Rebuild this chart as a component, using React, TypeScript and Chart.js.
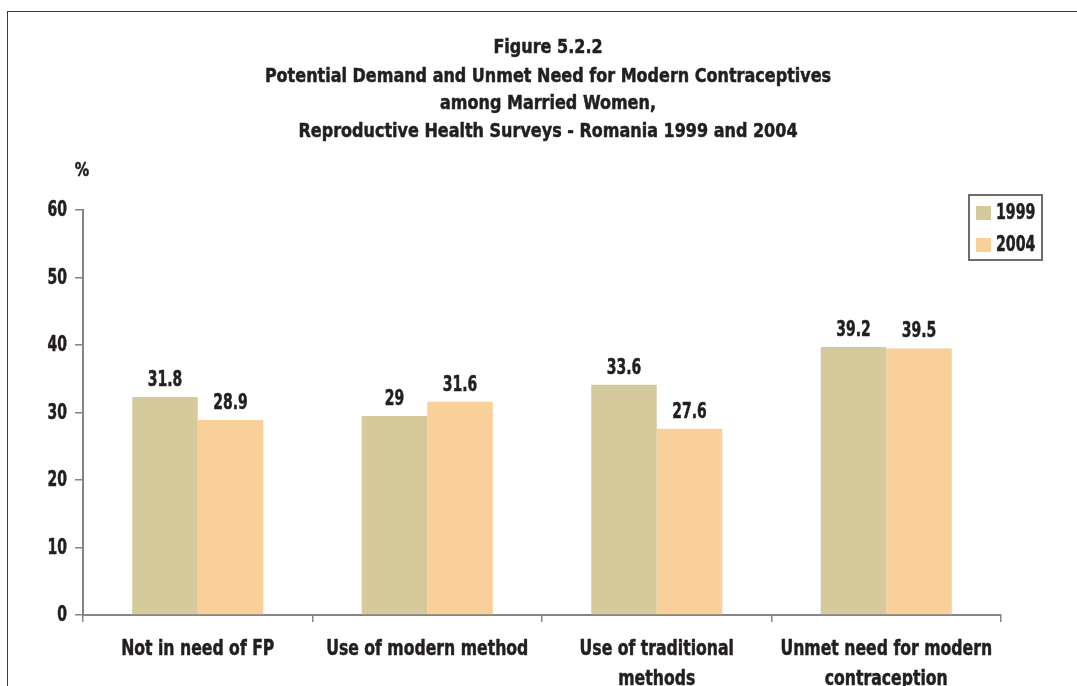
import React, { useEffect, useRef } from "react";
import { Chart, registerables } from "chart.js";

Chart.register(...registerables);

const categories: string[][] = [
  ["Not in need of FP"],
  ["Use of modern method"],
  ["Use of traditional", "methods"],
  ["Unmet need for modern", "contraception"],
];
const seriesNames = ["1999", "2004"];
const values1999 = [32.3, 29.5, 34.1, 39.7];
const values2004 = [28.9, 31.6, 27.6, 39.5];
const labels1999 = ["31.8", "29", "33.6", "39.2"];
const labels2004 = ["28.9", "31.6", "27.6", "39.5"];
const yTicks = [0, 10, 20, 30, 40, 50, 60];
const titleLines = [
  "Figure 5.2.2",
  "Potential Demand and Unmet Need for Modern Contraceptives",
  "among Married Women,",
  "Reproductive Health Surveys - Romania 1999 and 2004",
];
const yUnit = "%";

const colors = ["#d5ca9c", "#f9cf9a"];
const FONT_FAMILY = '"Liberation Sans Narrow", "DejaVu Sans Condensed", "Arial Narrow", sans-serif';
const TEXT = "#231f20";
const AXIS = "#858585";

function drawText(
  ctx: CanvasRenderingContext2D,
  text: string,
  x: number,
  y: number,
  size: number,
  sx: number,
  align: CanvasTextAlign,
  baseline: CanvasTextBaseline = "middle"
) {
  ctx.save();
  ctx.font = `bold ${size}px ${FONT_FAMILY}`;
  ctx.textAlign = align;
  ctx.textBaseline = baseline;
  ctx.fillStyle = TEXT;
  ctx.strokeStyle = TEXT;
  ctx.lineWidth = 0.5;
  ctx.lineJoin = "round";
  ctx.translate(x, y);
  ctx.scale(sx, 1);
  ctx.fillText(text, 0, 0);
  ctx.strokeText(text, 0, 0);
  ctx.restore();
}

const decorPlugin = {
  id: "decor",
  afterDraw(chart: any) {
    const ctx = chart.ctx as CanvasRenderingContext2D;
    // title
    const tY = [48, 77, 104, 132];
    titleLines.forEach((t, i) => drawText(ctx, t, 548, tY[i], 20, 0.89, "center"));
    // unit
    drawText(ctx, yUnit, 82, 171, 20, 0.8, "center");
    // y tick labels
    const ys = chart.scales.y;
    yTicks.forEach((v) => {
      drawText(ctx, String(v), ys.right - 16, ys.getPixelForValue(v) + 1, 21, 0.74, "right");
    });
    // x tick labels
    const xs = chart.scales.x;
    (chart.data.labels as string[][]).forEach((lines, i) => {
      const cx = xs.getPixelForTick(i);
      lines.forEach((ln, j) => {
        drawText(ctx, ln, cx, xs.top + 35 + j * 30, 21, 0.83, "center");
      });
    });
    // data labels
    const labelSets = [labels1999, labels2004];
    chart.data.datasets.forEach((ds: any, di: number) => {
      const meta = chart.getDatasetMeta(di);
      meta.data.forEach((bar: any, i: number) => {
        drawText(ctx, labelSets[di][i], bar.x, bar.y - 11, 21, 0.74, "center", "alphabetic");
      });
    });
    // legend
    const lx = 969, ly = 195, lw = 73, lh = 65;
    ctx.save();
    ctx.strokeStyle = "#6d6d6d";
    ctx.lineWidth = 2;
    ctx.strokeRect(lx, ly, lw, lh);
    chart.data.datasets.forEach((ds: any, di: number) => {
      const sy = ly + 11 + di * 32;
      ctx.fillStyle = ds.backgroundColor;
      ctx.fillRect(lx + 7, sy, 15, 14);
      drawText(ctx, ds.label, lx + 27, sy + 8, 21, 0.75, "left");
    });
    ctx.restore();
  },
};

export default function App() {
  const ref = useRef<HTMLCanvasElement>(null);
  useEffect(() => {
    if (!ref.current) return;
    const chart = new Chart(ref.current, {
      type: "bar",
      data: {
        labels: categories,
        datasets: [
          { label: seriesNames[0], data: values1999, backgroundColor: colors[0] },
          { label: seriesNames[1], data: values2004, backgroundColor: colors[1] },
        ],
      },
      options: {
        responsive: false,
        animation: false,
        devicePixelRatio: 1,
        layout: { padding: { top: 210, right: 76, bottom: 0, left: 0 } },
        datasets: { bar: { categoryPercentage: 0.571, barPercentage: 1.0 } },
        plugins: { legend: { display: false }, title: { display: false }, tooltip: { enabled: false } },
        scales: {
          x: {
            grid: { offset: true, drawOnChartArea: false, drawTicks: true, tickLength: 7, color: AXIS, lineWidth: 1.5 },
            border: { color: AXIS, width: 2 },
            ticks: { display: false, maxRotation: 0, minRotation: 0, autoSkip: false },
            afterFit(scale: any) { scale.height = 71; },
          },
          y: {
            min: 0,
            max: 60,
            afterBuildTicks(scale: any) { scale.ticks = yTicks.map((v) => ({ value: v })); },
            grid: { drawOnChartArea: false, drawTicks: true, tickLength: 8, color: AXIS, lineWidth: 1.5 },
            border: { color: AXIS, width: 2 },
            ticks: { display: false },
            afterFit(scale: any) { scale.width = 83; },
          },
        },
      },
      plugins: [decorPlugin],
    });
    return () => chart.destroy();
  }, []);
  return (
    <div style={{ position: "fixed", left: 0, top: 0, width: 1077, height: 686, overflow: "hidden", background: "#fff" }}>
      <div style={{ position: "absolute", left: 7, top: 11, width: 2000, height: 2000, borderLeft: "1.5px solid #3a3a3a", borderTop: "1.5px solid #3a3a3a" }} />
      <canvas ref={ref} width={1077} height={686} style={{ position: "absolute", left: 0, top: 0 }} />
    </div>
  );
}
